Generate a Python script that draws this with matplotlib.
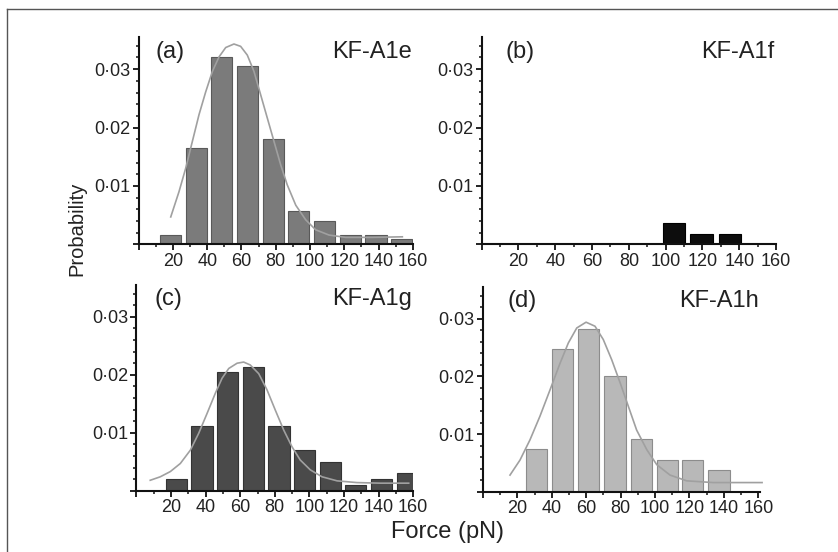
"""Force histograms for the four KF-A1 constructs, drawn as a 2x2 grid."""

import matplotlib

matplotlib.use("Agg")

import matplotlib.pyplot as plt
from matplotlib.lines import Line2D
from matplotlib.ticker import FuncFormatter, MultipleLocator

FIG_W, FIG_H = 838, 552

# bin centres (pN) and probabilities
force_a = [18.5, 33.5, 48.5, 63.5, 78.5, 93.5, 108.5, 123.5, 138.5, 153.5]
prob_a = [0.0016, 0.0165, 0.0320, 0.0305, 0.0180, 0.0058, 0.0040, 0.0016, 0.0016, 0.0009]

force_b = [104.5, 119.5, 135.0]
prob_b = [0.0036, 0.0018, 0.0018]

force_c = [23.2, 37.9, 52.6, 67.6, 82.4, 97.0, 112.0, 126.8, 141.6, 156.5]
prob_c = [0.0020, 0.0112, 0.0204, 0.0214, 0.0112, 0.0071, 0.0050, 0.0009, 0.0020, 0.0030]

force_d = [30.9, 46.2, 61.3, 76.7, 91.9, 107.0, 122.0, 137.2]
prob_d = [0.0074, 0.0247, 0.0283, 0.0201, 0.0092, 0.0055, 0.0055, 0.0037]

# fitted curves, traced point by point
fit_a_x = [18.7, 23.5, 27.4, 31.3, 35.2, 39.1, 43.0, 46.9, 50.8, 55.6, 59.5, 63.4, 67.3,
           71.2, 75.1, 79.0, 82.9, 86.7, 91.7, 97.5, 103.3, 111.1, 120.8, 136.4, 153.9]
fit_a_y = [0.0047, 0.0090, 0.0130, 0.0176, 0.0222, 0.0261, 0.0296, 0.0321, 0.0337, 0.0343,
           0.0339, 0.0324, 0.0296, 0.0256, 0.0216, 0.0176, 0.0136, 0.0102, 0.0067, 0.0042,
           0.0025, 0.0016, 0.0012, 0.0012, 0.0013]

fit_c_x = [8.0, 13.8, 19.6, 25.4, 31.2, 36.0, 40.8, 45.6, 49.5, 53.4, 58.2, 62.0, 65.8,
           70.7, 75.5, 80.3, 85.1, 89.9, 94.7, 100.5, 107.3, 116.0, 127.5, 141.0, 157.4]
fit_c_y = [0.0018, 0.0024, 0.0033, 0.0047, 0.0070, 0.0099, 0.0133, 0.0168, 0.0194, 0.0211,
           0.0220, 0.0222, 0.0217, 0.0202, 0.0174, 0.0139, 0.0105, 0.0076, 0.0053, 0.0036,
           0.0024, 0.0017, 0.0014, 0.0013, 0.0013]

fit_d_x = [15.7, 21.5, 27.3, 33.1, 39.0, 44.8, 49.6, 54.5, 59.9, 65.1, 69.9, 74.8, 79.7,
           84.5, 89.3, 95.2, 101.0, 108.7, 118.4, 133.9, 151.3, 162.2]
fit_d_y = [0.0029, 0.0055, 0.0090, 0.0131, 0.0177, 0.0223, 0.0258, 0.0284, 0.0294, 0.0287,
           0.0264, 0.0229, 0.0189, 0.0148, 0.0107, 0.0073, 0.0047, 0.0029, 0.0019, 0.0016,
           0.0016, 0.0016]

panel_tags = ["(a)", "(b)", "(c)", "(d)"]
panel_names = ["KF-A1e", "KF-A1f", "KF-A1g", "KF-A1h"]

TEXT = "#222222"
CURVE = "#a0a0a0"
FONT = ["Liberation Sans", "DejaVu Sans"]


def px_axes(fig, left, top, right, bottom):
    """Add axes from a pixel box (origin top-left)."""
    return fig.add_axes([
        left / FIG_W,
        1 - bottom / FIG_H,
        (right - left) / FIG_W,
        (bottom - top) / FIG_H,
    ])


def style_axes(ax, xmax):
    """Origin-like axes: left/bottom spines, outward ticks, dot decimals."""
    for side in ("top", "right"):
        ax.spines[side].set_visible(False)
    for side in ("left", "bottom"):
        ax.spines[side].set_linewidth(1.5)
        ax.spines[side].set_color("#111111")
    ax.set_xlim(0, xmax)
    ax.set_ylim(0, 0.0355)
    ax.xaxis.set_major_locator(MultipleLocator(20))
    ax.xaxis.set_minor_locator(MultipleLocator(10))
    ax.yaxis.set_major_locator(MultipleLocator(0.01))
    ax.yaxis.set_minor_locator(MultipleLocator(0.002))
    ax.xaxis.set_major_formatter(FuncFormatter(lambda v, _: "" if v == 0 else f"{v:.0f}"))
    ax.yaxis.set_major_formatter(
        FuncFormatter(lambda v, _: "" if v == 0 else f"{v:.2f}".replace(".", "\u00b7"))
    )
    ax.tick_params(which="major", direction="out", length=4, width=1.3,
                   labelsize=13, colors="#111111", labelcolor=TEXT, pad=2)
    ax.tick_params(which="minor", direction="out", length=2.5, width=1.1, colors="#111111")
    for label in ax.get_xticklabels() + ax.get_yticklabels():
        label.set_family(FONT)


def draw_panel(ax, force, prob, color, edge, tag, name, tag_x, fit=None):
    """Bars, optional fit curve and the two panel captions."""
    ax.bar(force, prob, width=12.3, color=color, edgecolor=edge, linewidth=0.8, zorder=2)
    if fit is not None:
        ax.plot(fit[0], fit[1], color=CURVE, linewidth=1.2, zorder=3, clip_on=False)
    ax.text(tag_x, 0.93, tag, transform=ax.transAxes, ha="left", va="center",
            fontsize=17, color=TEXT, family=FONT)
    ax.text(0.995, 0.93, name, transform=ax.transAxes, ha="right", va="center",
            fontsize=17, color=TEXT, family=FONT)


def main():
    plt.rcParams["font.family"] = FONT
    fig = plt.figure(figsize=(FIG_W / 100, FIG_H / 100), dpi=100)

    ax_a = px_axes(fig, 138.7, 37, 412.8, 244.4)
    ax_b = px_axes(fig, 481.7, 37, 776.0, 244.3)
    ax_c = px_axes(fig, 136.4, 285, 413.2, 490.7)
    ax_d = px_axes(fig, 483.0, 287, 760.0, 491.8)

    style_axes(ax_a, 160)
    style_axes(ax_b, 160)
    style_axes(ax_c, 160)
    style_axes(ax_d, 161)

    draw_panel(ax_a, force_a, prob_a, "#7b7b7b", "#595959", panel_tags[0], panel_names[0],
               0.06, fit=(fit_a_x, fit_a_y))
    draw_panel(ax_b, force_b, prob_b, "#0d0d0d", "#000000", panel_tags[1], panel_names[1],
               0.08)
    draw_panel(ax_c, force_c, prob_c, "#4a4a4a", "#333333", panel_tags[2], panel_names[2],
               0.067, fit=(fit_c_x, fit_c_y))
    draw_panel(ax_d, force_d, prob_d, "#b8b8b8", "#8c8c8c", panel_tags[3], panel_names[3],
               0.087, fit=(fit_d_x, fit_d_y))

    fig.text(77 / FIG_W, 1 - 229 / FIG_H, "Probability", rotation=90, ha="center",
             va="center", fontsize=14.5, color=TEXT)
    fig.text(447 / FIG_W, 1 - 532 / FIG_H, "Force (pN)", ha="center", va="center",
             fontsize=17, color=TEXT)

    # thin frame visible on the left and top edges only
    frame_x = 7 / FIG_W
    frame_y = 1 - 9 / FIG_H
    fig.add_artist(Line2D([frame_x, frame_x], [0, frame_y], color="#555555", linewidth=1))
    fig.add_artist(Line2D([frame_x, 1], [frame_y, frame_y], color="#555555", linewidth=1))

    fig.savefig("out.png", dpi=100)
    plt.close(fig)


if __name__ == "__main__":
    main()
